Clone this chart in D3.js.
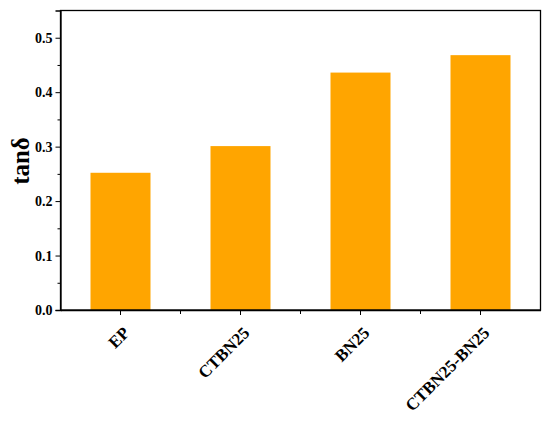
<!DOCTYPE html>
<html>
<head>
<meta charset="utf-8">
<script src="https://cdn.jsdelivr.net/npm/d3@7"></script>
<style>
  body { margin: 0; background: #fff; }
  text { font-family: "Liberation Serif", "Times New Roman", serif; font-weight: bold; fill: #000; }
</style>
</head>
<body>
<div id="chart"></div>
<script>
var categories = [ "EP", "CTBN25", "BN25", "CTBN25-BN25" ];
var tanDelta = [ 0.252, 0.301, 0.436, 0.468 ];
var yTicks = [ 0, 0.1, 0.2, 0.3, 0.4, 0.5 ];
var yMinorTicks = [ 0.05, 0.15, 0.25, 0.35, 0.45 ];

var width = 550, height = 423;
var plotLeft = 60.5, plotRight = 540.5, plotTop = 10.5, plotBottom = 310;

var svg = d3.select( "#chart" ).append( "svg" )
	.attr( "width", width )
	.attr( "height", height );

var xScale = d3.scaleBand()
	.domain( categories )
	.range( [ plotLeft, plotRight ] )
	.paddingInner( 0 );

var yScale = d3.scaleLinear()
	.domain( [ 0, 0.55 ] )
	.range( [ plotBottom, plotTop ] );

// bars
svg.append( "g" )
	.selectAll( "rect" )
	.data( categories )
	.join( "rect" )
	.attr( "x", d => xScale( d ) + xScale.bandwidth() / 4 )
	.attr( "y", ( d, i ) => yScale( tanDelta[i] ) )
	.attr( "width", xScale.bandwidth() / 2 )
	.attr( "height", ( d, i ) => yScale( 0 ) - yScale( tanDelta[i] ) )
	.attr( "fill", "#ffa500" );

// frame
svg.append( "rect" )
	.attr( "x", plotLeft )
	.attr( "y", plotTop )
	.attr( "width", plotRight - plotLeft )
	.attr( "height", plotBottom - plotTop )
	.attr( "fill", "none" )
	.attr( "stroke", "#000" )
	.attr( "stroke-width", 1.3 );

// y axis
var yAxis = svg.append( "g" )
	.attr( "transform", `translate(${plotLeft},0)` )
	.call( d3.axisLeft( yScale ).tickValues( yTicks ).tickFormat( d3.format( ".1f" ) ).tickSize( 5 ).tickPadding( 3 ) );
yAxis.select( ".domain" ).attr( "stroke-width", 1.3 );
yAxis.selectAll( "text" ).style( "font-size", "14px" );

svg.append( "g" )
	.attr( "transform", `translate(${plotLeft},0)` )
	.call( d3.axisLeft( yScale ).tickValues( yMinorTicks ).tickFormat( "" ).tickSize( 3 ) )
	.select( ".domain" ).remove();

// x axis
var xAxis = svg.append( "g" )
	.attr( "transform", `translate(0,${plotBottom})` )
	.call( d3.axisBottom( xScale ).tickSize( 5 ).tickSizeOuter( 0 ) );
xAxis.select( ".domain" ).attr( "stroke-width", 1.3 );
xAxis.selectAll( "text" )
	.style( "font-size", "17px" )
	.attr( "text-anchor", "end" )
	.attr( "x", 0 )
	.attr( "y", 0 )
	.attr( "dy", 0 )
	.attr( "transform", "translate(10,24) rotate(-45)" );

// minor x ticks between categories
svg.append( "g" )
	.selectAll( "line" )
	.data( categories.slice( 1 ) )
	.join( "line" )
	.attr( "x1", d => xScale( d ) )
	.attr( "x2", d => xScale( d ) )
	.attr( "y1", plotBottom )
	.attr( "y2", plotBottom + 4 )
	.attr( "stroke", "#000" );

// y label
svg.append( "text" )
	.attr( "transform", "translate(29,161) rotate(-90)" )
	.attr( "text-anchor", "middle" )
	.style( "font-size", "25px" )
	.text( "tanδ" );
</script>
</body>
</html>
